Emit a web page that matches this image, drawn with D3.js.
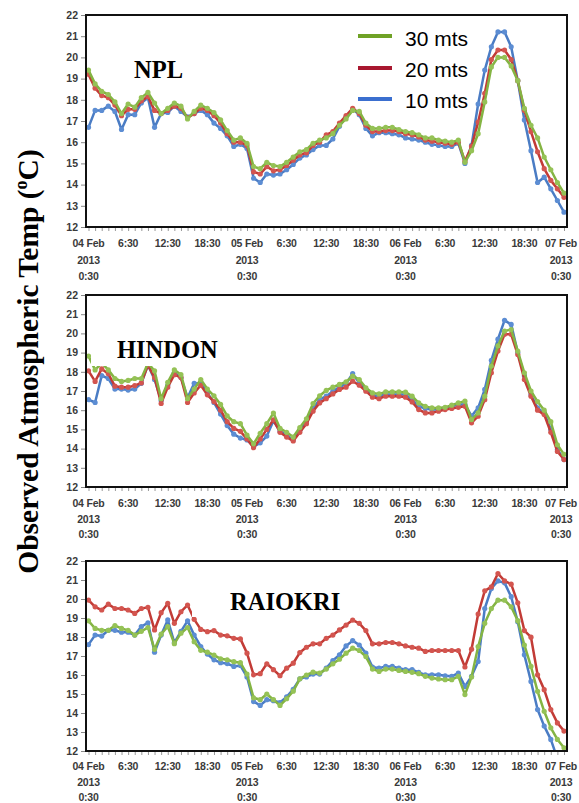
<!DOCTYPE html>
<html><head><meta charset="utf-8">
<script src="https://cdn.jsdelivr.net/npm/d3@7"></script>
<style>body{margin:0;background:#fff}svg{display:block}</style>
</head><body>
<svg id="c" width="579" height="803"></svg>
<script>
// ---- DATA ----
const seriesNames = ["30 mts", "20 mts", "10 mts"];
const tickLabels = [
  ["04 Feb","2013","0:30"],["6:30"],["12:30"],["18:30"],
  ["05 Feb","2013","0:30"],["6:30"],["12:30"],["18:30"],
  ["06 Feb","2013","0:30"],["6:30"],["12:30"],["18:30"],
  ["07 Feb","2013","0:30"]
];
const yTicks = [12,13,14,15,16,17,18,19,20,21,22];

const npl30 = [19.4,18.75,18.4,18.25,17.9,17.35,17.8,17.65,18.1,18.35,17.85,17.35,17.6,17.85,17.7,17.1,17.45,17.75,17.6,17.4,17.05,16.55,16.1,16.2,15.95,14.85,14.75,15.05,14.9,14.85,15.05,15.3,15.55,15.65,15.95,16.1,
  16.2,16.4,16.8,17.1,17.5,17.45,16.9,16.65,16.65,16.7,16.7,16.6,16.5,16.45,16.35,16.2,16.2,16.1,16.05,16.0,16.1,15.05,15.6,16.4,17.9,19.55,20.0,20.0,19.6,18.9,17.6,16.8,16.2,15.3,14.7,14.1,13.6];
const npl20 = [19.2,18.55,18.2,18.1,17.75,17.25,17.55,17.55,17.95,18.15,17.5,17.35,17.5,17.7,17.6,17.15,17.35,17.6,17.5,17.25,16.9,16.4,16.0,16.0,15.85,14.6,14.5,14.85,14.65,14.7,14.9,15.15,15.4,15.5,15.85,16.0,
  16.35,16.5,16.9,17.25,17.6,17.35,16.8,16.5,16.5,16.55,16.55,16.5,16.4,16.35,16.25,16.1,16.05,16.0,15.95,15.9,16.0,15.1,15.8,16.95,18.3,19.9,20.35,20.35,19.9,18.9,17.5,16.5,15.55,14.75,14.2,13.8,13.4];
const npl10 = [16.7,17.5,17.5,17.7,17.45,16.6,17.3,17.3,17.85,18.1,16.7,17.35,17.4,17.7,17.45,17.2,17.35,17.5,17.3,16.9,16.65,16.3,15.8,15.9,15.7,14.3,14.1,14.5,14.45,14.5,14.7,14.95,15.25,15.4,15.65,15.85,
  15.85,16.15,16.75,17.2,17.55,17.3,16.65,16.3,16.45,16.45,16.4,16.35,16.2,16.15,16.1,16.0,15.9,15.85,15.8,15.8,15.95,15.0,15.85,17.8,19.4,20.5,21.2,21.2,20.5,18.9,17.05,15.6,14.1,14.35,13.8,13.25,12.7];

const hindon30 = [18.82,18.1,18.45,18.1,17.65,17.5,17.55,17.65,17.65,18.45,18.05,16.6,17.45,18.1,17.85,16.6,17.1,17.6,17.1,16.75,16.3,15.7,15.4,15.3,14.7,14.25,14.8,15.3,15.85,15.05,14.85,14.6,15.1,15.55,16.35,16.75,
  17.03,17.2,17.34,17.48,17.77,17.6,17.17,16.9,16.85,16.95,16.95,16.95,16.94,16.73,16.38,16.2,16.12,16.12,16.15,16.26,16.38,16.47,15.51,15.86,16.73,18.3,19.35,20.12,20.2,19.08,17.95,17.0,16.45,16.0,15.4,14.2,13.7];
const hindon20 = [18.05,17.5,18.15,17.9,17.25,17.2,17.2,17.28,17.42,18.35,17.7,16.35,17.2,17.85,17.7,16.4,16.9,17.3,16.8,16.45,16.0,15.4,15.05,14.9,14.5,14.05,14.5,15.0,15.5,14.85,14.6,14.4,14.85,15.3,15.95,16.38,
  16.6,16.85,17.08,17.2,17.51,17.3,16.99,16.68,16.6,16.73,16.73,16.73,16.68,16.43,16.03,15.86,15.86,15.95,16.03,16.09,16.15,16.2,15.34,15.69,16.55,17.95,19.08,19.95,19.95,18.9,17.6,16.73,16.0,15.77,14.85,13.85,13.43];
const hindon10 = [16.55,16.4,17.8,17.65,17.1,17.1,17.05,17.1,17.4,18.35,17.6,16.5,17.3,17.95,17.7,16.65,17.4,17.4,16.9,16.4,15.8,15.2,14.75,14.55,14.45,14.1,14.3,14.65,15.45,14.9,14.7,14.45,14.95,15.4,16.1,16.55,
  16.73,16.99,17.2,17.37,17.91,17.42,17.08,16.78,16.73,16.82,16.82,16.82,16.82,16.55,16.2,16.09,16.03,16.03,16.12,16.2,16.3,16.3,15.69,16.12,17.08,18.6,19.7,20.68,20.47,19.0,17.8,16.8,16.12,15.86,15.0,13.95,13.43];

const raiokri30 = [18.85,18.45,18.35,18.35,18.6,18.45,18.35,18.1,18.3,18.5,17.35,18.15,18.55,17.65,18.2,18.5,17.75,17.3,17.2,17.05,16.85,16.8,16.7,16.65,16.05,14.8,14.7,15.0,14.7,14.4,14.75,15.15,15.8,16.0,16.15,16.1,
  16.31,16.59,16.83,17.15,17.41,17.29,16.97,16.31,16.19,16.31,16.31,16.24,16.19,16.14,16.07,15.93,15.84,15.79,15.75,15.75,15.93,14.97,15.89,17.5,18.72,19.5,19.94,19.94,19.59,18.86,17.58,16.45,15.14,14.09,13.22,12.61,12.17];
const raiokri20 = [19.94,19.59,19.42,19.73,19.5,19.5,19.42,19.24,19.5,19.56,18.37,19.28,19.77,18.72,19.33,19.68,18.93,18.4,18.28,18.34,18.1,18.06,17.93,17.9,17.15,16.01,16.07,16.59,16.28,15.96,16.36,16.62,17.18,17.46,17.64,17.64,
  17.93,18.1,18.37,18.63,18.89,18.72,18.34,17.64,17.64,17.71,17.71,17.64,17.53,17.46,17.41,17.24,17.29,17.29,17.29,17.29,17.29,16.42,17.36,19.21,20.43,20.64,21.34,20.95,20.78,19.8,18.34,17.99,16.01,15.23,14.18,13.48,13.05];
const raiokri10 = [17.6,18.1,18.05,18.35,18.35,18.25,18.25,18.1,18.55,18.75,17.2,18.1,18.9,17.7,18.3,18.85,18.1,17.5,17.1,16.8,16.65,16.6,16.45,16.5,15.9,14.6,14.4,14.7,14.65,14.55,14.85,15.25,15.8,15.9,16.05,16.05,
  16.36,16.76,17.06,17.53,17.81,17.58,17.15,16.42,16.36,16.45,16.45,16.36,16.28,16.28,16.14,16.01,16.01,16.01,15.96,15.93,16.1,15.4,15.93,16.71,19.5,20.55,20.95,20.85,20.12,18.8,17.06,15.66,14.18,13.31,12.61,11.6,11.2];

// ---- LAYOUT / STYLE ----
const plotLeft = 86, plotRight = 567;
const hours = d3.range(npl30.length);
const x = d3.scaleLinear().domain([0, hours.length - 1]).range([88.5, 564]);

const styles = {
  "30 mts": {line: "#84b443", dot: "#95c256", legend: "#6fa226"},
  "20 mts": {line: "#c23b36", dot: "#d3554f", legend: "#a8172f"},
  "10 mts": {line: "#4a7cc4", dot: "#5c8dd3", legend: "#3b6fcf"}
};

const panels = [
  {name: "NPL", top: 15, bottom: 227, series: {"30 mts": npl30, "20 mts": npl20, "10 mts": npl10},
   title: {x: 134, y: 78}, box: null, lab0: 247, gap: 16.5},
  {name: "HINDON", top: 295, bottom: 487, series: {"30 mts": hindon30, "20 mts": hindon20, "10 mts": hindon10},
   title: {x: 117, y: 358}, box: {x: 91, y: 322, w: 135, h: 44}, lab0: 507, gap: 15.5},
  {name: "RAIOKRI", top: 561, bottom: 751, series: {"30 mts": raiokri30, "20 mts": raiokri20, "10 mts": raiokri10},
   title: {x: 230, y: 610}, box: {x: 192, y: 578, w: 180, h: 39}, lab0: 770, gap: 15.5}
];

const svg = d3.select("#c");
const tickFont = "bold 10.5px 'Liberation Sans', Arial, sans-serif";

panels.forEach((p, i) => {
  const y = d3.scaleLinear().domain([12, 22]).range([p.bottom, p.top]);
  const g = svg.append("g");

  const cid = "clip" + i;
  svg.append("clipPath").attr("id", cid).append("rect")
    .attr("x", plotLeft).attr("y", p.top).attr("width", plotRight - plotLeft).attr("height", p.bottom - p.top);

  const ya = g.append("g").attr("transform", `translate(${plotLeft},0)`)
    .call(d3.axisLeft(y).tickValues(yTicks).tickSize(5).tickPadding(3).tickFormat(d3.format("d")));
  ya.select(".domain").remove();
  ya.selectAll("line").attr("stroke", "#888");
  ya.selectAll("text").style("font", tickFont).attr("fill", "#3a3a3a");

  const xa = g.append("g").attr("transform", `translate(0,${p.bottom})`)
    .call(d3.axisBottom(x).tickValues(hours).tickSize(4).tickFormat(""));
  xa.select(".domain").remove();
  xa.selectAll("line").attr("stroke", "#999");

  tickLabels.forEach((lines, k) => {
    const t = g.append("text").attr("text-anchor", "middle").style("font", tickFont)
      .style("letter-spacing", "-0.2px").attr("fill", "#3a3a3a");
    const cx = Math.min(x(k * 6), 561);
    lines.forEach((s, j) => {
      t.append("tspan").attr("x", cx).attr("y", p.lab0 + j * p.gap).text(s);
    });
  });

  const plot = g.append("g").attr("clip-path", `url(#${cid})`);
  const line = d3.line().x((d, k) => x(k)).y(d => y(d));
  ["10 mts", "20 mts", "30 mts"].forEach(sn => {
    const vals = p.series[sn];
    const st = styles[sn];
    plot.append("path").datum(vals).attr("d", line)
      .attr("fill", "none").attr("stroke", st.line).attr("stroke-width", 2.5).attr("stroke-linejoin", "round");
    plot.selectAll(null).data(vals).join("circle")
      .attr("cx", (d, k) => x(k)).attr("cy", d => y(d)).attr("r", 2.6)
      .attr("fill", st.dot);
  });

  if (p.box) {
    g.append("rect").attr("x", p.box.x).attr("y", p.box.y).attr("width", p.box.w).attr("height", p.box.h).attr("fill", "#fff");
  }
  g.append("text").attr("x", p.title.x).attr("y", p.title.y)
    .style("font", "bold 24.5px 'Liberation Serif', 'Times New Roman', serif").attr("fill", "#000").text(p.name);

  g.append("rect").attr("x", plotLeft).attr("y", p.top).attr("width", plotRight - plotLeft).attr("height", p.bottom - p.top)
    .attr("fill", "none").attr("stroke", "#111").attr("stroke-width", 2);
});

// legend (in first panel)
const leg = svg.append("g");
const legY = [36, 68, 99], legTextY = [46, 77, 108];
seriesNames.forEach((sn, k) => {
  leg.append("line").attr("x1", 358).attr("x2", 392).attr("y1", legY[k]).attr("y2", legY[k])
    .attr("stroke", styles[sn].legend).attr("stroke-width", 4);
  leg.append("text").attr("x", 405).attr("y", legTextY[k])
    .style("font", "21px 'Liberation Sans', Arial, sans-serif").attr("fill", "#000").text(sn);
});

// y title
const yt = svg.append("text").attr("transform", "translate(38,361.5) rotate(-90)").attr("text-anchor", "middle")
  .style("font", "bold 29.5px 'Liberation Serif', 'Times New Roman', serif").attr("fill", "#000");
yt.append("tspan").text("Observed Atmospheric Temp (");
yt.append("tspan").attr("dy", -11).style("font-size", "18px").text("o");
yt.append("tspan").attr("dy", 11).text("C)");
</script>
</body></html>
